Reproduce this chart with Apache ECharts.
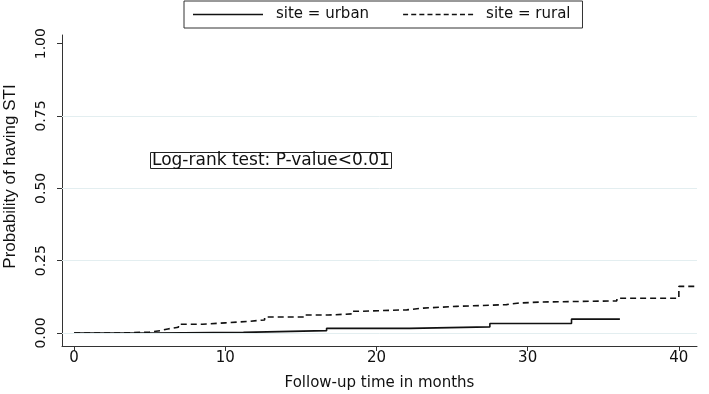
<!DOCTYPE html>
<html>
<head>
<meta charset="utf-8">
<script src="https://cdn.jsdelivr.net/npm/echarts@6/dist/echarts.min.js"></script>
<style>
  html, body { margin: 0; padding: 0; background: #fff; }
  #main { width: 709px; height: 394px; }
</style>
</head>
<body>
<div id="main"></div>
<script>
// Kaplan-Meier failure curves, [months, probability]
var urbanData = [
  [0, 0], [5.3, 0.002], [11.2, 0.008], [16.7, 0.016], [22.2, 0.021],
  [27.5, 0.033], [32.9, 0.048], [36.1, 0.048]
]
var ruralData = [
  [0, 0], [3.1, 0.003], [5.0, 0.008], [5.7, 0.014], [6.2, 0.02], [6.9, 0.03],
  [8.5, 0.035], [10, 0.04], [11.5, 0.045], [12.6, 0.055], [15.2, 0.062],
  [16.8, 0.066], [18.4, 0.075], [18.9, 0.08], [22.0, 0.086], [23.1, 0.092],
  [25.3, 0.098], [28.6, 0.103], [29.3, 0.107], [30.8, 0.111], [35.9, 0.12],
  [40.0, 0.161], [41.05, 0.161]
]
var xTicks = [0, 10, 20, 30, 40]
var yTicks = [0, 0.25, 0.5, 0.75, 1]
var gridValues = [0, 0.25, 0.5, 0.75]

var font = 'DejaVu Sans'

// legend icons: a solid bar and nine dashes
var solidIcon = 'path://M0,0h70v1.6h-70z'
var dashIcon = 'path://'
for (var i = 0; i < 9; i++) {
    dashIcon += 'M' + (i * 8.125) + ',0h5v1.6h-5z'
}

var myChart = echarts.init(document.getElementById('main'))

myChart.setOption({
    animation: false,
    backgroundColor: '#fff',
    title: {
        text: 'Log-rank test: P-value<0.01',
        left: 150,
        top: 153,
        padding: [0, 2],
        borderColor: '#222',
        borderWidth: 1,
        textStyle: {
            fontFamily: font,
            fontSize: 17,
            fontWeight: 'normal',
            color: '#111',
            lineHeight: 15
        }
    },
    legend: {
        left: 184,
        top: 1,
        padding: [6, 12, 6, 9],
        itemGap: 34,
        itemWidth: 70,
        itemHeight: 2,
        borderColor: '#333',
        borderWidth: 1,
        data: [
            { name: 'site = urban', icon: solidIcon },
            { name: 'site = rural', icon: dashIcon }
        ],
        textStyle: {
            fontFamily: font,
            fontSize: 15,
            color: '#111',
            lineHeight: 15,
            padding: [0, 0, 0, 8]
        }
    },
    grid: {
        left: 62,
        right: 12,
        top: 35,
        bottom: 48,
        containLabel: false,
        outerBoundsMode: 'none'
    },
    xAxis: {
        type: 'value',
        min: -0.8,
        max: 41.2,
        name: 'Follow-up time in months',
        nameLocation: 'middle',
        nameGap: 30,
        nameTextStyle: { fontFamily: font, fontSize: 15, color: '#111' },
        axisLine: { onZero: false, lineStyle: { color: '#333', width: 1 } },
        axisTick: { customValues: xTicks, length: 5, lineStyle: { color: '#333' } },
        axisLabel: { customValues: xTicks, margin: 5, fontFamily: font, fontSize: 15, color: '#111' },
        splitLine: { show: false }
    },
    yAxis: {
        type: 'value',
        min: -0.045,
        max: 1.03,
        name: 'Probability of having STI',
        nameLocation: 'middle',
        nameGap: 43,
        nameTextStyle: {
            fontFamily: 'Liberation Sans',
            fontSize: 17,
            color: '#111',
            padding: [0, 0, 0, 28]  // nudge name up a little
        },
        axisLine: { show: true, onZero: false, lineStyle: { color: '#333', width: 1 } },
        axisTick: { show: true, customValues: yTicks, length: 5, lineStyle: { color: '#333' } },
        axisLabel: {
            customValues: yTicks,
            rotate: 90,
            margin: 14,
            fontFamily: font,
            fontSize: 14,
            color: '#111',
            formatter: function (v) { return v.toFixed(2) }
        },
        splitLine: { show: false }
    },
    series: [
        {
            name: 'grid',
            type: 'line',
            data: [],
            silent: true,
            z: 1,
            markLine: {
                silent: true,
                symbol: 'none',
                label: { show: false },
                lineStyle: { color: '#e3eef0', type: 'solid', width: 1 },
                data: gridValues.map(function (v) { return { yAxis: v } })
            }
        },
        {
            name: 'site = urban',
            type: 'line',
            step: 'end',
            symbol: 'none',
            z: 3,
            data: urbanData,
            lineStyle: { color: '#111', width: 1.6, type: 'solid' },
            itemStyle: { color: '#111' }
        },
        {
            name: 'site = rural',
            type: 'line',
            step: 'end',
            symbol: 'none',
            z: 3,
            data: ruralData,
            lineStyle: { color: '#111', width: 1.6, type: [6, 4] },
            itemStyle: { color: '#111' }
        }
    ]
})
</script>
</body>
</html>
